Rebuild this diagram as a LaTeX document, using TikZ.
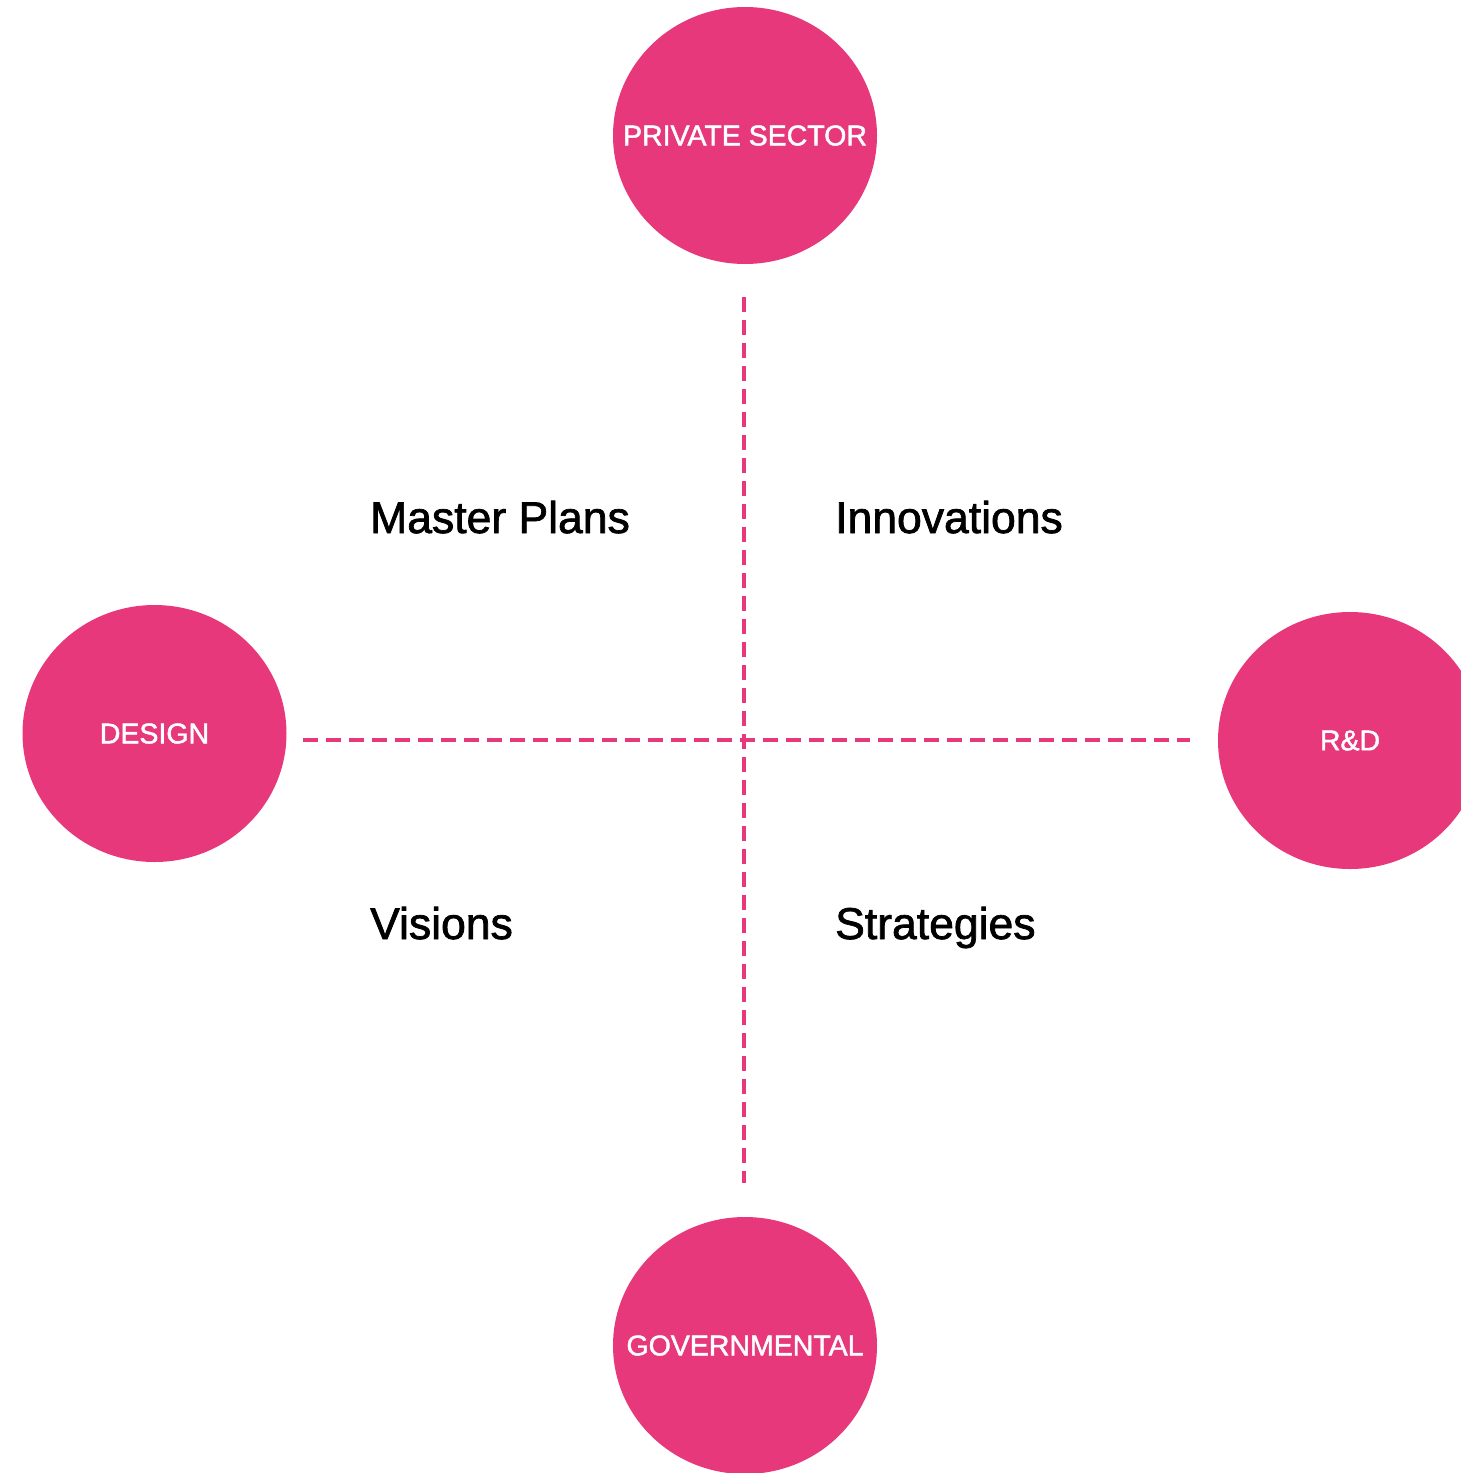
\documentclass[tikz,border=0pt]{standalone}
\usepackage{fontspec}
\setmainfont{Liberation Sans}
\newfontfamily\medfont[UprightFeatures={FakeBold=1.6}]{Liberation Sans}
\usetikzlibrary{shapes.geometric}
\definecolor{hub}{HTML}{E6387B}
\newcommand{\hubtext}[1]{\raisebox{-2pt}{\makebox[0pt][c]{#1}}}
\tikzset{
  hubnode/.style={ellipse, fill=hub, draw=none, minimum width=264pt, minimum height=257pt, inner sep=0pt, text=white, font=\medfont\fontsize{28.5}{34}\selectfont},
  quadlabel/.style={anchor=base west, inner sep=0pt, font=\medfont\fontsize{44.5}{52}\selectfont, text=black},
  dashline/.style={draw=hub, line width=4pt, dash pattern=on 15pt off 8pt}
}
\begin{document}
\begin{tikzpicture}[x=1pt,y=-1pt]
\useasboundingbox (0,0) rectangle (1461,1473);
\clip (0,0) rectangle (1461,1473);
\node[hubnode] (priv) at (745,135.5) {\hubtext{PRIVATE SECTOR}};
\node[hubnode] (design) at (154.5,733.5) {\hubtext{DESIGN}};
\node[hubnode] (rd) at (1350,740.5) {\hubtext{R\&D}};
\node[hubnode] (gov) at (745,1345.5) {\hubtext{GOVERNMENTAL}};
\coordinate (vtop) at (744,297);
\coordinate (vbot) at (744,1183);
\coordinate (hleft) at (303,740);
\coordinate (hright) at (1190,740);
\draw[dashline] (vtop) -- (vbot);
\draw[dashline] (hleft) -- (hright);
\node[quadlabel] (mp) at (370,533) {Master Plans};
\node[quadlabel] (inn) at (835,533) {Innovations};
\node[quadlabel] (vis) at (370,939) {Visions};
\node[quadlabel] (str) at (835,939) {Strategies};
\end{tikzpicture}
\end{document}
